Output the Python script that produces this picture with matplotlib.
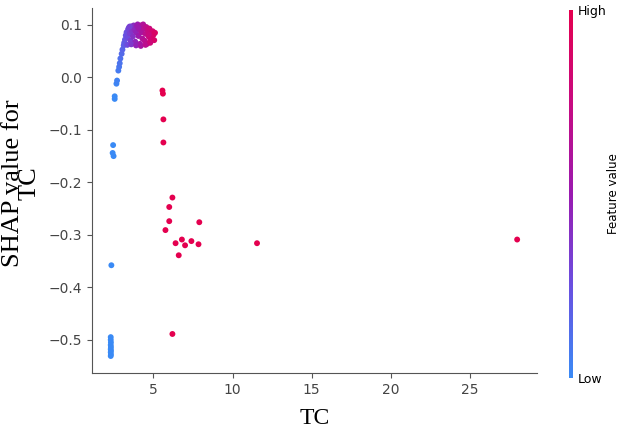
import numpy as np
import matplotlib
matplotlib.use("Agg")
import matplotlib.pyplot as plt
from matplotlib.colors import LinearSegmentedColormap

# TC value and SHAP value for each sample
tc = [2.30, 2.30, 2.31, 2.30, 2.31, 2.30, 2.31, 2.30, 2.31, 2.30,
      2.34, 2.45, 2.42, 2.48,
      2.55, 2.55, 2.66, 2.70, 2.78, 2.83, 2.87, 2.91, 2.99, 3.04, 3.12,
      3.15, 3.20, 3.25, 3.30, 3.35, 3.40, 3.45, 3.50, 3.55, 3.60,
      3.65, 3.70, 3.75, 3.80, 3.85, 3.90, 3.95, 4.00, 4.05, 4.10,
      4.15, 4.20, 4.25, 4.30, 4.35, 4.40, 4.45, 4.50, 4.55, 4.60,
      4.65, 4.70, 4.75, 4.80, 4.85, 4.90, 4.95, 5.00, 5.05, 5.10,
      3.35, 3.60, 3.90, 4.20, 4.50, 4.80, 3.50, 4.05, 4.70,
      5.57, 5.60, 5.63, 5.63,
      6.20, 6.00, 6.00, 5.76, 6.40, 6.60, 6.80, 7.00, 7.40, 7.85, 7.90, 6.20,
      11.55, 28.0]
shap = [-0.495, -0.500, -0.505, -0.510, -0.514, -0.518, -0.521, -0.524, -0.528, -0.531,
        -0.358, -0.129, -0.144, -0.150,
        -0.041, -0.036, -0.012, -0.006, 0.013, 0.020, 0.027, 0.036, 0.045, 0.053, 0.061,
        0.066, 0.072, 0.080, 0.086, 0.076, 0.092, 0.095, 0.084, 0.070, 0.097,
        0.088, 0.078, 0.099, 0.091, 0.068, 0.086, 0.098, 0.101, 0.079, 0.092,
        0.064, 0.099, 0.086, 0.074, 0.101, 0.093, 0.070, 0.083, 0.096, 0.064,
        0.089, 0.078, 0.093, 0.070, 0.084, 0.075, 0.088, 0.081, 0.071, 0.085,
        0.062, 0.063, 0.061, 0.060, 0.062, 0.066, 0.097, 0.095, 0.082,
        -0.025, -0.031, -0.080, -0.124,
        -0.229, -0.247, -0.274, -0.291, -0.316, -0.339, -0.309, -0.320, -0.312, -0.318, -0.276, -0.489,
        -0.316, -0.309]

cmap = LinearSegmentedColormap.from_list(
    "red_blue", ["#3a8af5", "#6a4fe0", "#9a1ab0", "#c80a80", "#e4004f"])

fig = plt.figure(figsize=(6.2, 4.29), dpi=100)
ax = fig.add_axes([0.148, 0.131, 0.718, 0.85])
sc = ax.scatter(tc, shap, c=tc, cmap=cmap, vmin=2.6, vmax=5.4,
                s=18, linewidths=0, alpha=1)

ax.set_xlim(1.1, 29.25)
ax.set_ylim(-0.563, 0.132)
ax.set_xticks([5, 10, 15, 20, 25])
ax.set_yticks([0.1, 0.0, -0.1, -0.2, -0.3, -0.4, -0.5])
ax.spines["top"].set_visible(False)
ax.spines["right"].set_visible(False)
for s in ["left", "bottom"]:
    ax.spines[s].set_color("#555555")
ax.tick_params(colors="#555555", labelcolor="#444444", labelsize=10)

ax.set_xlabel("TC", family="Liberation Serif", fontsize=17, labelpad=8)
ax.set_ylabel("SHAP value for\nTC", family="Liberation Serif", fontsize=19,
              linespacing=0.68)
ax.yaxis.set_label_coords(-0.115, 0.52)

cax = fig.add_axes([0.918, 0.12, 0.0065, 0.857])
cb = fig.colorbar(sc, cax=cax, ticks=[2.6, 5.4])
cb.set_ticklabels(["Low", "High"])
cb.outline.set_visible(False)
cb.ax.tick_params(length=0, labelsize=9, pad=3)
cb.set_label("Feature value", size=8.5, labelpad=1)

fig.savefig("out.png", dpi=100)
